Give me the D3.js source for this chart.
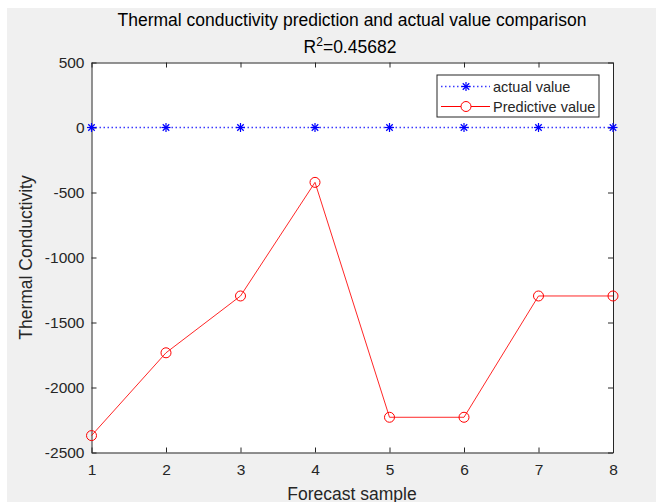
<!DOCTYPE html>
<html>
<head>
<meta charset="utf-8">
<script src="https://cdn.jsdelivr.net/npm/d3@7"></script>
<style>
  body { margin: 0; background: #fff; }
  svg { display: block; font-family: "Liberation Sans", Arial, sans-serif; }
</style>
</head>
<body>
<svg width="656" height="502"></svg>
<script>
const samples = [1, 2, 3, 4, 5, 6, 7, 8];
const actualValues = [0, 0, 0, 0, 0, 0, 0, 0];
const predictedValues = [-2370, -1733, -1296, -422, -2229, -2229, -1296, -1296];
const yTicks = [500, 0, -500, -1000, -1500, -2000, -2500];
const seriesNames = ["actual value", "Predictive value"];

const svg = d3.select("svg");
const margin = { left: 91.5, right: 43, top: 62.5, bottom: 49.5 };
const W = 656, H = 502;
const textColor = "#262626";

// figure background (white strip top/left like the screenshot)
svg.append("rect").attr("x", 7).attr("y", 8).attr("width", W - 7).attr("height", H - 8).attr("fill", "#f0f0f0");

const x = d3.scaleLinear().domain([1, 8]).range([margin.left, W - margin.right]);
const y = d3.scaleLinear().domain([-2500, 500]).range([H - margin.bottom, margin.top]);

svg.append("rect")
    .attr("x", x(1)).attr("y", y(500))
    .attr("width", x(8) - x(1)).attr("height", y(-2500) - y(500))
    .attr("fill", "#fff");

// box axes, ticks pointing inward
const tickLen = 5;
const plain = d => String(d); // keep the ascii hyphen for negatives
const xAxisB = d3.axisBottom(x).tickValues(samples).tickFormat(plain).tickSizeInner(-tickLen).tickSizeOuter(0).tickPadding(11);
const xAxisT = d3.axisTop(x).tickValues(samples).tickSizeInner(-tickLen).tickSizeOuter(0).tickFormat("");
const yAxisL = d3.axisLeft(y).tickValues(yTicks).tickFormat(plain).tickSizeInner(-tickLen).tickSizeOuter(0).tickPadding(7);
const yAxisR = d3.axisRight(y).tickValues(yTicks).tickSizeInner(-tickLen).tickSizeOuter(0).tickFormat("");

function styleAxis(g) {
    g.select(".domain").attr("stroke", textColor);
    g.selectAll(".tick line").attr("stroke", textColor);
    g.selectAll("text").attr("fill", textColor).style("font-size", "15.5px").style("font-family", "Liberation Sans, Arial, sans-serif");
}

svg.append("g").attr("transform", `translate(0,${y(-2500)})`).call(xAxisB).call(styleAxis);
svg.append("g").attr("transform", `translate(0,${y(500)})`).call(xAxisT).call(styleAxis);
svg.append("g").attr("transform", `translate(${x(1)},0)`).call(yAxisL).call(styleAxis);
svg.append("g").attr("transform", `translate(${x(8)},0)`).call(yAxisR).call(styleAxis);

const line = d3.line().x((d, i) => x(samples[i])).y(d => y(d));

const plot = svg.append("g");

// actual: blue dotted line with asterisks
plot.append("path").datum(actualValues)
    .attr("d", line).attr("fill", "none").attr("stroke", "#3a3aff")
    .attr("stroke-width", 1.3).attr("stroke-dasharray", "1.5,2.5");

function star(g, cx, cy, r) {
    const s = g.append("g").attr("transform", `translate(${cx},${cy})`).attr("stroke", "#0000ff").attr("stroke-width", 1.2);
    s.append("line").attr("x1", -r).attr("x2", r).attr("y1", 0).attr("y2", 0);
    s.append("line").attr("x1", 0).attr("x2", 0).attr("y1", -r).attr("y2", r);
    const d = r * 0.72;
    s.append("line").attr("x1", -d).attr("x2", d).attr("y1", -d).attr("y2", d);
    s.append("line").attr("x1", -d).attr("x2", d).attr("y1", d).attr("y2", -d);
}
actualValues.forEach((v, i) => star(plot, x(samples[i]), y(v), 4.5));

// predicted: red solid line with circles
plot.append("path").datum(predictedValues)
    .attr("d", line).attr("fill", "none").attr("stroke", "#ff0000").attr("stroke-width", 1).attr("opacity", 0.85);

plot.selectAll("circle.pred").data(predictedValues).enter().append("circle")
    .attr("class", "pred")
    .attr("cx", (d, i) => x(samples[i])).attr("cy", d => y(d)).attr("r", 5)
    .attr("fill", "none").attr("stroke", "#ff0000").attr("stroke-width", 1);

// legend
const lg = svg.append("g").attr("transform", "translate(437,75)");
lg.append("rect").attr("width", 162).attr("height", 42).attr("fill", "#fff").attr("stroke", textColor).attr("stroke-width", 1);
lg.append("line").attr("x1", 4).attr("x2", 53).attr("y1", 11.5).attr("y2", 11.5)
    .attr("stroke", "#3a3aff").attr("stroke-width", 1.3).attr("stroke-dasharray", "1.5,2.5");
star(lg, 29, 11.5, 4.5);
lg.append("line").attr("x1", 4).attr("x2", 53).attr("y1", 31.5).attr("y2", 31.5).attr("stroke", "#ff0000");
lg.append("circle").attr("cx", 29).attr("cy", 31.5).attr("r", 5).attr("fill", "#fff").attr("stroke", "#ff0000");
lg.selectAll("text.lab").data(seriesNames).enter().append("text")
    .attr("x", 56).attr("y", (d, i) => 17 + i * 19.5)
    .attr("fill", textColor).style("font-size", "14.5px").text(d => d);

// titles
svg.append("text").attr("x", 352).attr("y", 26).attr("text-anchor", "middle")
    .attr("fill", "#000").style("font-size", "17.5px")
    .text("Thermal conductivity prediction and actual value comparison");
const r2 = svg.append("text").attr("x", 350).attr("y", 53).attr("text-anchor", "middle")
    .attr("fill", "#000").style("font-size", "17.5px");
r2.append("tspan").text("R");
r2.append("tspan").attr("dy", -7).style("font-size", "12px").text("2");
r2.append("tspan").attr("dy", 7).text("=0.45682");

svg.append("text").attr("x", 352).attr("y", 499.5).attr("text-anchor", "middle")
    .attr("fill", textColor).style("font-size", "17.5px").text("Forecast sample");
svg.append("text").attr("transform", `translate(32,${(y(500) + y(-2500)) / 2}) rotate(-90)`)
    .attr("text-anchor", "middle").attr("fill", textColor).style("font-size", "17.5px")
    .text("Thermal Conductivity");
</script>
</body>
</html>
